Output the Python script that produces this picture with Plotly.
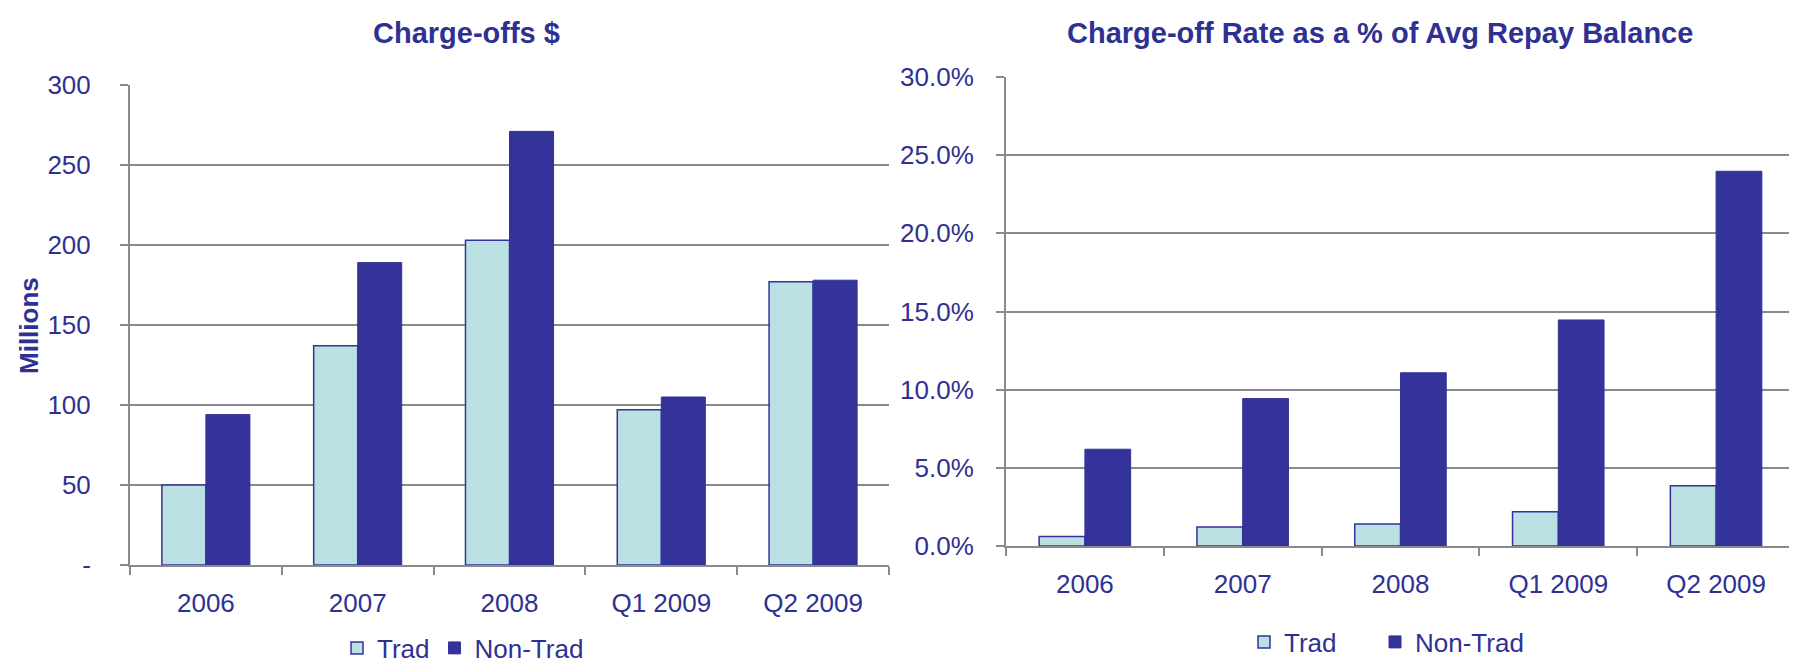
import plotly.graph_objects as go

categories = ["2006", "2007", "2008", "Q1 2009", "Q2 2009"]
chargeoffs_trad = [50, 137, 203, 97, 177]
chargeoffs_nontrad = [94, 189, 271, 105, 178]
rate_trad = [0.006, 0.0122, 0.0141, 0.0219, 0.0386]
rate_nontrad = [0.0619, 0.0943, 0.1108, 0.1446, 0.2397]
left_ticks = [0, 50, 100, 150, 200, 250, 300]
left_ticktext = ["-", "50", "100", "150", "200", "250", "300"]

TXT = "#2E3192"
TRAD = "#BAE0E3"
NON = "#333399"
GRID = "#8A8A8A"
FONT = "Liberation Sans, Arial, sans-serif"
W, H = 1797, 663

fig = go.Figure()
fig.add_trace(go.Bar(x=categories, y=chargeoffs_trad, name="Trad", marker=dict(color=TRAD, line=dict(color=NON, width=1.5)),
                     xaxis="x", yaxis="y", legend="legend"))
fig.add_trace(go.Bar(x=categories, y=chargeoffs_nontrad, name="Non-Trad", marker=dict(color=NON, line=dict(color=NON, width=1)),
                     xaxis="x", yaxis="y", legend="legend"))
fig.add_trace(go.Bar(x=categories, y=rate_trad, name="Trad", marker=dict(color=TRAD, line=dict(color=NON, width=1.5)),
                     xaxis="x2", yaxis="y2", legend="legend2"))
fig.add_trace(go.Bar(x=categories, y=rate_nontrad, name="Non-Trad", marker=dict(color=NON, line=dict(color=NON, width=1)),
                     xaxis="x2", yaxis="y2", legend="legend3"))

xcommon = dict(type="category", tickson="boundaries", ticks="outside", ticklen=8, tickwidth=2, tickcolor=GRID,
               showline=True, linecolor=GRID, linewidth=2, showgrid=False, automargin=False,
               tickfont=dict(family=FONT, size=26, color=TXT), ticklabelstandoff=14)
ycommon = dict(ticks="outside", ticklen=8, tickwidth=2, tickcolor=GRID, showline=True, linecolor=GRID, linewidth=2,
               showgrid=True, gridcolor=GRID, gridwidth=2, zeroline=False, automargin=False,
               tickfont=dict(family=FONT, size=26, color=TXT))
legfont = dict(family=FONT, size=26, color=TXT)

fig.update_layout(
    width=W, height=H,
    margin=dict(l=0, r=0, t=0, b=0, autoexpand=False),
    paper_bgcolor="white", plot_bgcolor="white",
    barmode="group", bargap=0.42, bargroupgap=0,
    xaxis=dict(domain=[122 / W, 881 / W], anchor="y", **xcommon),
    yaxis=dict(domain=[1 - 557 / H, 1 - 77 / H], anchor="x", range=[0, 300],
               tickvals=left_ticks, ticktext=left_ticktext, ticklabelstandoff=24, **ycommon),
    xaxis2=dict(domain=[998 / W, 1787 / W], anchor="y2", **xcommon),
    yaxis2=dict(domain=[1 - 538 / H, 1 - 69 / H], anchor="x2", range=[0, 0.30], dtick=0.05,
                tickformat=".1%", ticklabelstandoff=17, **ycommon),
    legend=dict(orientation="h", x=455 / W, y=1 - 640 / H, xanchor="center", yanchor="middle",
                font=legfont, bgcolor="rgba(0,0,0,0)"),
    legend2=dict(orientation="h", x=1236 / W, y=1 - 634 / H, xanchor="left", yanchor="middle",
                 font=legfont, bgcolor="rgba(0,0,0,0)"),
    legend3=dict(orientation="h", x=1367 / W, y=1 - 634 / H, xanchor="left", yanchor="middle",
                 font=legfont, bgcolor="rgba(0,0,0,0)"),
    annotations=[
        dict(text="<b>Charge-offs $</b>", x=458 / W, y=1 - 25 / H, xref="paper", yref="paper",
             xanchor="center", yanchor="middle", showarrow=False, font=dict(family=FONT, size=29, color=TXT)),
        dict(text="<b>Charge-off Rate as a % of Avg Repay Balance</b>", x=1372 / W, y=1 - 25 / H,
             xref="paper", yref="paper", xanchor="center", yanchor="middle", showarrow=False,
             font=dict(family=FONT, size=29, color=TXT)),
        dict(text="<b>Millions</b>", x=21 / W, y=1 - 318 / H, xref="paper", yref="paper", textangle=-90,
             xanchor="center", yanchor="middle", showarrow=False, font=dict(family=FONT, size=26, color=TXT)),
    ],
)

fig.write_html("out.html")
